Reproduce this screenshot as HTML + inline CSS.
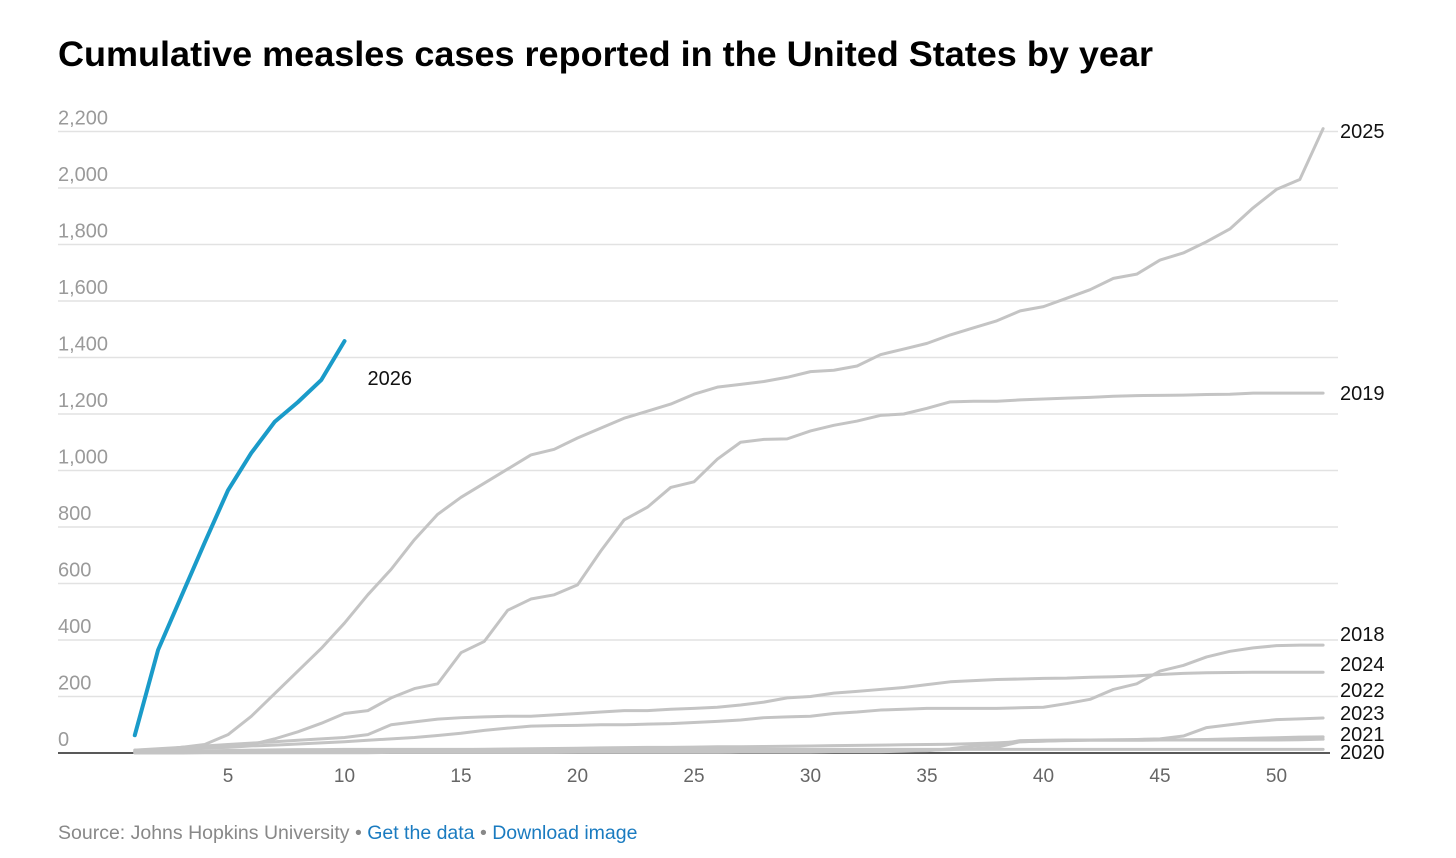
<!DOCTYPE html>
<html><head><meta charset="utf-8"><style>
body{margin:0;background:#fff;width:1456px;height:858px;overflow:hidden;font-family:"Liberation Sans",sans-serif}
svg{position:absolute;left:0;top:0}
</style></head><body>
<svg id="chart" width="1456" height="858" xmlns="http://www.w3.org/2000/svg">
<text x="58" y="66" font-size="35" font-weight="bold" fill="#000" textLength="1095" lengthAdjust="spacingAndGlyphs">Cumulative measles cases reported in the United States by year</text>
<g id="grid"></g><g id="lines"></g><g id="labels"></g>
<text x="58" y="839" font-size="19.5" fill="#888">Source: Johns Hopkins University • <tspan fill="#1a7bc0">Get the data</tspan> • <tspan fill="#1a7bc0">Download image</tspan></text>
</svg>
<script>
const yTicks=[0,200,400,600,800,1000,1200,1400,1600,1800,2000,2200];
const xTicks=[5,10,15,20,25,30,35,40,45,50];
const years=["2025","2019","2018","2024","2022","2023","2021","2020","2026"];
const s2026=[63,365,555,745,930,1062,1172,1242,1320,1458];
const s2025=[5,10,20,30,65,130,210,290,370,460,560,650,755,845,905,955,1005,1055,1075,1115,1150,1185,1210,1235,1270,1295,1305,1315,1330,1350,1355,1370,1410,1430,1450,1480,1505,1530,1565,1580,1610,1640,1680,1695,1745,1770,1810,1855,1930,1995,2030,2210];
const s2019=[10,15,20,25,25,30,50,75,105,140,150,195,228,245,355,395,505,545,560,595,715,825,870,940,960,1040,1100,1110,1112,1140,1160,1175,1195,1200,1220,1243,1245,1245,1250,1253,1256,1259,1263,1265,1266,1267,1269,1270,1274,1274,1274,1274];
const s2018=[10,12,15,18,20,25,28,32,36,40,45,50,55,62,70,80,88,95,97,98,100,100,102,104,108,112,117,125,128,130,140,145,152,155,158,158,158,158,160,162,175,190,225,245,290,310,340,360,372,380,382,382];
const s2024=[5,10,20,25,30,35,40,45,50,55,65,100,110,120,125,128,130,130,135,140,145,150,150,155,158,162,170,180,195,200,212,218,225,232,242,252,256,260,262,264,265,268,270,273,278,282,284,285,286,286,286,286];
const s2022=[1,1,2,2,2,3,3,3,3,3,4,4,4,4,5,5,5,5,5,5,6,6,6,7,7,7,8,8,8,9,9,9,10,10,10,12,15,20,40,42,45,46,47,48,50,60,90,100,110,118,121,124];
const s2023=[3,4,5,5,6,6,7,7,8,8,9,10,10,11,12,13,14,15,16,17,18,19,20,20,21,22,22,23,24,25,26,27,28,29,30,31,33,36,40,42,44,45,45,45,46,47,48,50,52,54,56,57];
const s2021=[0,0,0,1,1,1,1,1,1,1,1,2,2,2,2,2,2,2,2,3,3,3,3,3,3,3,4,4,4,4,5,5,5,6,8,15,25,30,44,45,46,46,46,46,46,46,46,46,46,46,47,49];
const s2020=[5,6,7,8,9,10,11,12,12,13,13,13,13,13,13,13,13,13,13,13,13,13,13,13,13,13,13,13,13,13,13,13,13,13,13,13,13,13,13,13,13,13,13,13,13,13,13,13,13,13,13,13];
const labelY={"2025":131,"2019":393,"2018":634,"2024":664,"2022":690,"2023":713,"2021":734,"2020":752,"2026":378};
const NS="http://www.w3.org/2000/svg";
const X=w=>134.8+(w-1)*23.3;
const Y=v=>753-v*0.2825;
function mk(tag,attrs,parent){const e=document.createElementNS(NS,tag);for(const k in attrs)e.setAttribute(k,attrs[k]);parent.appendChild(e);return e;}
const grid=document.getElementById('grid'),lines=document.getElementById('lines'),labels=document.getElementById('labels');
yTicks.forEach(t=>{
 if(t>0){const g=mk('line',{x1:58,x2:1338,y1:Y(t),y2:Y(t),stroke:'#e2e2e2','stroke-width':1.5},grid);
 
 }
 const tx=mk('text',{x:58,y:Y(t)-7,'font-size':20,fill:'#9a9a9a'},grid);
 tx.textContent=t.toLocaleString('en-US');
 
 
});
xTicks.forEach(t=>{
 const tx=mk('text',{x:X(t),y:782,'font-size':19,fill:'#666','text-anchor':'middle'},grid);
 tx.textContent=t;
 
 
});
const series={"2025":s2025,"2019":s2019,"2018":s2018,"2024":s2024,"2022":s2022,"2023":s2023,"2021":s2021,"2020":s2020,"2026":s2026};
years.forEach(y=>{
 const d=series[y];const blue=y==="2026";
 const p=mk('polyline',{points:d.map((v,i)=>X(i+1)+','+Y(v)).join(' '),fill:'none',stroke:blue?'#1a9bc9':'#c4c4c4','stroke-width':blue?4:3,'stroke-linejoin':'round','stroke-linecap':'round'},lines);
 
 
 const lx=blue?X(d.length)+23:1340;
 const tx=mk('text',{x:lx,y:labelY[y]+7,'font-size':20,fill:'#111'},labels);
 tx.textContent=y;
 
 
});
const ax=mk('line',{x1:58,x2:1330,y1:753,y2:753,stroke:'#222','stroke-width':1.5},grid);


</script>
</body></html>
